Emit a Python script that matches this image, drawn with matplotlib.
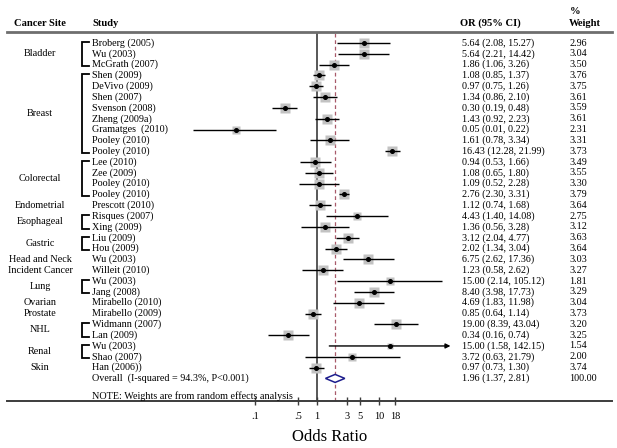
import matplotlib
matplotlib.use('Agg')
import matplotlib.pyplot as plt
import matplotlib.transforms as mtransforms
from matplotlib.patches import Polygon
import numpy as np

plt.rcParams['font.family'] = ['Liberation Serif', 'DejaVu Serif']

# ---------------- data ----------------
sites = ['Bladder', 'Breast', 'Colorectal', 'Endometrial', 'Esophageal', 'Gastric',
         'Head and Neck', 'Incident Cancer', 'Lung', 'Ovarian', 'Prostate', 'NHL',
         'Renal', 'Skin']
site_counts = [3, 8, 4, 1, 2, 2, 1, 1, 2, 1, 1, 2, 2, 1]

studies = ['Broberg (2005)', 'Wu (2003)', 'McGrath (2007)', 'Shen (2009)', 'DeVivo (2009)',
           'Shen (2007)', 'Svenson (2008)', 'Zheng (2009a)', 'Gramatges  (2010)',
           'Pooley (2010)', 'Pooley (2010)', 'Lee (2010)', 'Zee (2009)', 'Pooley (2010)',
           'Pooley (2010)', 'Prescott (2010)', 'Risques (2007)', 'Xing (2009)', 'Liu (2009)',
           'Hou (2009)', 'Wu (2003)', 'Willeit (2010)', 'Wu (2003)', 'Jang (2008)',
           'Mirabello (2010)', 'Mirabello (2009)', 'Widmann (2007)', 'Lan (2009)',
           'Wu (2003)', 'Shao (2007)', 'Han (2006))']
or_vals = [5.64, 5.64, 1.86, 1.08, 0.97, 1.34, 0.30, 1.43, 0.05, 1.61, 16.43, 0.94, 1.08,
           1.09, 2.76, 1.12, 4.43, 1.36, 3.12, 2.02, 6.75, 1.23, 15.00, 8.40, 4.69, 0.85,
           19.00, 0.34, 15.00, 3.72, 0.97]
ci_low = [2.08, 2.21, 1.06, 0.85, 0.75, 0.86, 0.19, 0.92, 0.01, 0.78, 12.28, 0.53, 0.65,
          0.52, 2.30, 0.74, 1.40, 0.56, 2.04, 1.34, 2.62, 0.58, 2.14, 3.98, 1.83, 0.64,
          8.39, 0.16, 1.58, 0.63, 0.73]
ci_high = [15.27, 14.42, 3.26, 1.37, 1.26, 2.10, 0.48, 2.23, 0.22, 3.34, 21.99, 1.66, 1.80,
           2.28, 3.31, 1.68, 14.08, 3.28, 4.77, 3.04, 17.36, 2.62, 105.12, 17.73, 11.98,
           1.14, 43.04, 0.74, 142.15, 21.79, 1.30]
weights = [2.96, 3.04, 3.50, 3.76, 3.75, 3.61, 3.59, 3.61, 2.31, 3.31, 3.73, 3.49, 3.55,
           3.30, 3.79, 3.64, 2.75, 3.12, 3.63, 3.64, 3.03, 3.27, 1.81, 3.29, 3.04, 3.73,
           3.20, 3.25, 1.54, 2.00, 3.74]
arrow_rows = [28]   # CI truncated with arrow

overall_label = 'Overall  (I-squared = 94.3%, P<0.001)'
overall_or, overall_lo, overall_hi, overall_w = 1.96, 1.37, 2.81, 100.00
note = 'NOTE: Weights are from random effects analysis'

xticks = [0.1, 0.5, 1, 3, 5, 10, 18]
xticklabels = ['.1', '.5', '1', '3', '5', '10', '18']

# ---------------- layout ----------------
W, H = 617, 448
fig = plt.figure(figsize=(W / 100, H / 100), dpi=100)

ax_l, ax_r, ax_t, ax_b = 7, 612, 32, 401   # axes box in pixels
x1_px, dec_px = 317, 62                     # pixel of OR=1, pixels per decade
row0_px, row_px = 43, 10.82                 # first row pixel and spacing

ax = fig.add_axes([ax_l / W, 1 - ax_b / H, (ax_r - ax_l) / W, (ax_b - ax_t) / H])
ax.set_xscale('log')
ax.set_xlim(10 ** ((ax_l - x1_px) / dec_px), 10 ** ((ax_r - x1_px) / dec_px))
ax.set_ylim((ax_b - row0_px) / row_px, (ax_t - row0_px) / row_px)

for s in ['left', 'right']:
    ax.spines[s].set_visible(False)
ax.spines['top'].set_color('#6e6e6e')
ax.spines['top'].set_linewidth(2.0)
ax.spines['bottom'].set_color('#3c3c3c')
ax.spines['bottom'].set_linewidth(1.4)
ax.set_yticks([])
ax.set_xticks(xticks)
ax.set_xticklabels(xticklabels)
ax.xaxis.set_minor_locator(matplotlib.ticker.NullLocator())
ax.tick_params(axis='x', direction='inout', length=6, width=1.0, color='#3c3c3c',
               labelsize=7.5, pad=5)

n = len(studies)
rows = np.arange(n)
overall_row = n
note_row = n + 1.6

# reference lines
ax.axvline(1, color='#4a4a4a', lw=1.3, zorder=1)
ax.axvline(overall_or, color='#a85a6a', lw=0.9, dashes=(3, 2.2), zorder=1)

# CIs, boxes, points
for i in rows:
    if i in arrow_rows:
        ax.annotate('', xy=(ci_high[i], i), xytext=(ci_low[i], i),
                    arrowprops=dict(arrowstyle='-|>', color='black', lw=1.0,
                                    mutation_scale=7, shrinkA=0, shrinkB=0), zorder=3)
    else:
        ax.plot([ci_low[i], ci_high[i]], [i, i], color='black', lw=1.0, zorder=3,
                solid_capstyle='butt')
    ax.plot(or_vals[i], i, marker='s', ms=3.78 * np.sqrt(weights[i]), color='#c2c2c2',
            mec='none', zorder=2)
    ax.plot(or_vals[i], i, marker='o', ms=2.6, color='black', zorder=4)

# overall diamond
dh = 0.37
ax.add_patch(Polygon([[overall_lo, overall_row], [overall_or, overall_row - dh],
                      [overall_hi, overall_row], [overall_or, overall_row + dh]],
                     closed=True, facecolor='white', edgecolor='#1c1c8c', lw=1.1, zorder=5))

# ---------------- text ----------------
tr = mtransforms.blended_transform_factory(fig.transFigure, ax.transData)
fs = 7.3

def fx(px):
    return px / W

def fy(py):
    return 1 - py / H

fig.text(fx(40), fy(23), 'Cancer Site', fontsize=7.6, fontweight='bold', ha='center', va='center')
fig.text(fx(92), fy(23), 'Study', fontsize=7.6, fontweight='bold', ha='left', va='center')
fig.text(fx(460), fy(23), 'OR (95% CI)', fontsize=7.6, fontweight='bold', ha='left', va='center')
fig.text(fx(570), fy(12), '%', fontsize=7.6, fontweight='bold', ha='left', va='center')
fig.text(fx(569), fy(23), 'Weight', fontsize=7.6, fontweight='bold', ha='left', va='center')

for i in rows:
    ax.text(fx(92), i, studies[i], transform=tr, fontsize=fs, ha='left', va='center')
    ax.text(fx(462), i, f'{or_vals[i]:.2f} ({ci_low[i]:.2f}, {ci_high[i]:.2f})',
            transform=tr, fontsize=fs, ha='left', va='center')
    ax.text(fx(569), i, f'{weights[i]:.2f}', transform=tr, fontsize=fs, ha='left', va='center')

ax.text(fx(92), overall_row, overall_label, transform=tr, fontsize=fs, ha='left', va='center')
ax.text(fx(462), overall_row, f'{overall_or:.2f} ({overall_lo:.2f}, {overall_hi:.2f})',
        transform=tr, fontsize=fs, ha='left', va='center')
ax.text(fx(569), overall_row, f'{overall_w:.2f}', transform=tr, fontsize=fs, ha='left', va='center')
ax.text(fx(92), note_row, note, transform=tr, fontsize=fs, ha='left', va='center')

# site labels and brackets
start = 0
for site, cnt in zip(sites, site_counts):
    first, last = start, start + cnt - 1
    ax.text(fx(40), (first + last) / 2, site, transform=tr, fontsize=fs,
            ha='center', va='center')
    if cnt > 1:
        bx0, bx1 = fx(82.5), fx(89)
        y0, y1 = first - 0.1, last + 0.15
        ax.plot([bx1, bx0, bx0, bx1], [y0, y0, y1, y1], transform=tr, color='black',
                lw=1.3, clip_on=False, solid_joinstyle='miter')
    start += cnt

fig.text(fx(330), fy(437), 'Odds Ratio', fontsize=12, ha='center', va='center')

fig.savefig('out.png', dpi=100, facecolor='white')
